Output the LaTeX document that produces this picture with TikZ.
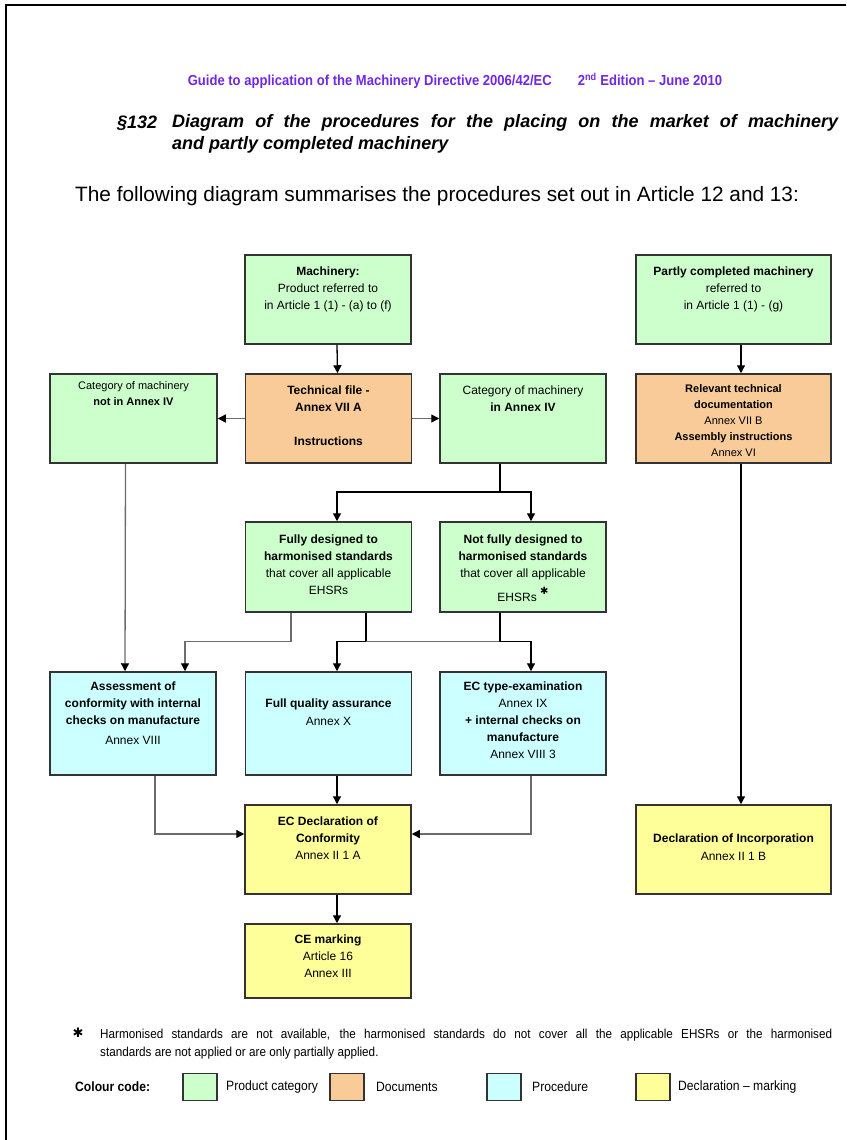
\documentclass[tikz,border=0pt]{standalone}
\usepackage{fontspec}
\setmainfont{Liberation Sans}
\newfontfamily\narrowfont[FakeStretch=0.9]{Liberation Sans}
\newfontfamily\symfont{DejaVu Sans}
\usetikzlibrary{arrows.meta}

\definecolor{prodgreen}{RGB}{204,255,204}
\definecolor{docorange}{RGB}{248,203,152}
\definecolor{proccyan}{RGB}{204,255,255}
\definecolor{declyellow}{RGB}{255,255,153}
\definecolor{headblue}{RGB}{110,40,230}

\begin{document}
\begin{tikzpicture}[x=1pt,y=-1pt,
    box/.style={draw=black!80,line width=1.5pt,inner sep=0pt,minimum width=166pt,minimum height=89pt},
    prod/.style={box,fill=prodgreen},
    docu/.style={box,fill=docorange},
    proc/.style={box,fill=proccyan},
    decl/.style={box,fill=declyellow},
    txt/.style={anchor=north,align=center,inner sep=0pt,font=\fontsize{12}{17}\selectfont},
    small/.style={txt,font=\fontsize{11}{16}\selectfont},
    note/.style={anchor=west,inner sep=0pt,font=\narrowfont\fontsize{13.5}{18}\selectfont},
    line/.style={line width=1.3pt},
    arr/.style={line width=1.3pt,-{Triangle[length=8pt,width=8pt]}},
    garr/.style={line width=1.3pt,draw=gray!85!black,-{Triangle[length=8pt,width=8pt,color=black]}},
    swatch/.style={draw=black!80,line width=1.2pt,inner sep=0pt,minimum width=34pt,minimum height=27pt}]

        \useasboundingbox (0,0) rectangle (846,1140);
        \fill[white] (0,0) rectangle (846,1140);

        % Page frame
        \draw[line width=2pt] (6,1140) -- (6,5) -- (846,5);

        % Heading
        \node[text=headblue,font=\narrowfont\bfseries\fontsize{14.5}{16}\selectfont] (head) at (455,81)
            {Guide to application of the Machinery Directive 2006/42/EC\hspace{26pt}2\textsuperscript{nd} Edition – June 2010};
        \node[anchor=west,inner sep=0pt,font=\bfseries\itshape\fontsize{18}{22}\selectfont] (secnum) at (117,123) {§132};
        \node[anchor=west,inner sep=0pt,font=\bfseries\itshape\fontsize{18}{22}\selectfont] (title1) at (172,123)
            {\makebox[666pt][s]{Diagram of the procedures for the placing on the market of machinery}};
        \node[anchor=west,inner sep=0pt,font=\bfseries\itshape\fontsize{18}{22}\selectfont] (title2) at (172,145)
            {and partly completed machinery};
        \node[anchor=west,inner sep=0pt,font=\fontsize{20.8}{24}\selectfont] (intro) at (75,196)
            {The following diagram summarises the procedures set out in Article 12 and 13:};

        % Boxes
        \node[prod] (mach) at (328,299.5) {};
        \node[prod,minimum width=195pt] (partly) at (733.5,299.5) {};
        \node[prod,minimum width=167pt] (notiv) at (133.5,418.5) {};
        \node[docu] (tech) at (328.5,418.5) {};
        \node[prod] (iniv) at (523,418.5) {};
        \node[docu,minimum width=195pt] (reldoc) at (733.5,418.5) {};
        \node[prod,minimum height=90pt] (fully) at (328.5,567) {};
        \node[prod,minimum height=90pt] (notfully) at (523,567) {};
        \node[proc,minimum height=103pt] (assess) at (133,723.5) {};
        \node[proc,minimum height=103pt] (fullqa) at (328.5,723.5) {};
        \node[proc,minimum height=103pt] (ectype) at (523,723.5) {};
        \node[decl] (ecdecl) at (328,849.5) {};
        \node[decl,minimum width=195pt] (declinc) at (733.5,849.5) {};
        \node[decl,minimum height=74pt] (cemark) at (328,961) {};

        % Box texts
        \node[txt] (macht) at (328,266.5) {\textbf{Machinery:}\\Product referred to\\in Article 1 (1) - (a) to (f)};
        \node[txt] (partlyt) at (733.5,266.5) {\textbf{Partly completed machinery}\\referred to\\in Article 1 (1) - (g)};
        \node[small] (notivt) at (133.5,381.5) {Category of machinery\\\textbf{not in Annex IV}};
        \node[txt,font=\bfseries\fontsize{12}{17}\selectfont] (techt) at (328.5,385.5) {Technical file -\\Annex VII A\\[17pt]Instructions};
        \node[txt] (inivt) at (523,385.5) {Category of machinery\\\textbf{in Annex IV}};
        \node[small] (reldoct) at (733.5,384.5) {\textbf{Relevant technical}\\\textbf{documentation}\\Annex VII B\\\textbf{Assembly instructions}\\Annex VI};
        \node[txt] (fullyt) at (328.5,534.5) {\textbf{Fully designed to}\\\textbf{harmonised standards}\\that cover all applicable\\EHSRs};
        \node[txt] (notfullyt) at (523,534.5) {\textbf{Not fully designed to}\\\textbf{harmonised standards}\\that cover all applicable\\[7pt]EHSRs \raisebox{7pt}{\symfont\fontsize{10}{10}\selectfont ✱}};
        \node[txt] (assesst) at (133,681.5) {\textbf{Assessment of}\\\textbf{conformity with internal}\\\textbf{checks on manufacture}\\[3pt]Annex VIII};
        \node[txt] (fullqat) at (328.5,698.5) {\textbf{Full quality assurance}\\[1pt]Annex X};
        \node[txt] (ectypet) at (523,681.5) {\textbf{EC type-examination}\\Annex IX\\\textbf{+ internal checks on}\\\textbf{manufacture}\\Annex VIII 3};
        \node[txt] (ecdeclt) at (328,816.5) {\textbf{EC Declaration of}\\\textbf{Conformity}\\Annex II 1 A};
        \node[txt] (declinct) at (733.5,833.5) {\textbf{Declaration of Incorporation}\\[1pt]Annex II 1 B};
        \node[txt] (cemarkt) at (328,934.5) {\textbf{CE marking}\\Article 16\\Annex III};

        % Forks
        \coordinate (fork1) at (500,492);

        % Arrows
        \draw[arr] ([xshift=9pt]mach.south) -- ([xshift=9pt]tech.north);
        \draw[garr] (tech.west) -- (notiv.east);
        \draw[garr] (tech.east) -- (iniv.west);
        \draw[line] ([xshift=-23pt]iniv.south) -- (fork1);
        \draw[arr] (fork1) -| ([xshift=8.5pt]fully.north);
        \draw[arr] (fork1) -| ([xshift=8pt]notfully.north);
        \draw[garr] ([xshift=-8pt]notiv.south) -- ([xshift=-8pt]assess.north);
        \draw[garr] ([xshift=-37.5pt]fully.south) -- ++(0,29) -| ([xshift=52pt]assess.north);
        \draw[arr] ([xshift=37.5pt]fully.south) -- ++(0,29) -| ([xshift=8.5pt]fullqa.north);
        \draw[line,draw=gray!85!black] ([xshift=37.5pt,yshift=-29pt]fully.south) -- ([xshift=-23pt,yshift=-29pt]notfully.south);
        \draw[arr] ([xshift=-23pt]notfully.south) -- ++(0,29) -| ([xshift=8pt]ectype.north);
        \draw[garr] ([xshift=22pt]assess.south) |- ([yshift=15.5pt]ecdecl.west);
        \draw[garr] ([xshift=8pt]ectype.south) |- ([yshift=15.5pt]ecdecl.east);
        \draw[arr] ([xshift=8.5pt]fullqa.south) -- ([xshift=9pt]ecdecl.north);
        \draw[arr] ([xshift=9pt]ecdecl.south) -- ([xshift=9pt]cemark.north);
        \draw[arr] ([xshift=7.5pt]partly.south) -- ([xshift=7.5pt]reldoc.north);
        \draw[arr] ([xshift=7.5pt]reldoc.south) -- ([xshift=7.5pt]declinc.north);

        % Footnote
        \node[inner sep=0pt,font=\symfont\fontsize{13}{13}\selectfont] (star) at (78,1033) {✱};
        \node[anchor=north west,inner sep=0pt,font=\narrowfont\fontsize{13}{18}\selectfont] (fnote) at (100,1029)
            {\parbox{732pt}{Harmonised standards are not available, the harmonised standards do not cover all the applicable EHSRs or the harmonised\linebreak standards are not applied or are only partially applied.}};

        % Colour code
        \node[note,font=\narrowfont\bfseries\fontsize{13.5}{18}\selectfont] (legend) at (75,1087) {Colour code:};
        \node[swatch,fill=prodgreen] (swgreen) at (200,1087) {};
        \node[note] (lgreen) at (226,1087) {Product category};
        \node[swatch,fill=docorange] (sworange) at (347,1087) {};
        \node[note] (lorange) at (376,1087) {Documents};
        \node[swatch,fill=proccyan] (swcyan) at (504,1087) {};
        \node[note] (lcyan) at (532,1087) {Procedure};
        \node[swatch,fill=declyellow] (swyellow) at (653,1087) {};
        \node[note] (lyellow) at (678,1087) {Declaration – marking};

\end{tikzpicture}
\end{document}
